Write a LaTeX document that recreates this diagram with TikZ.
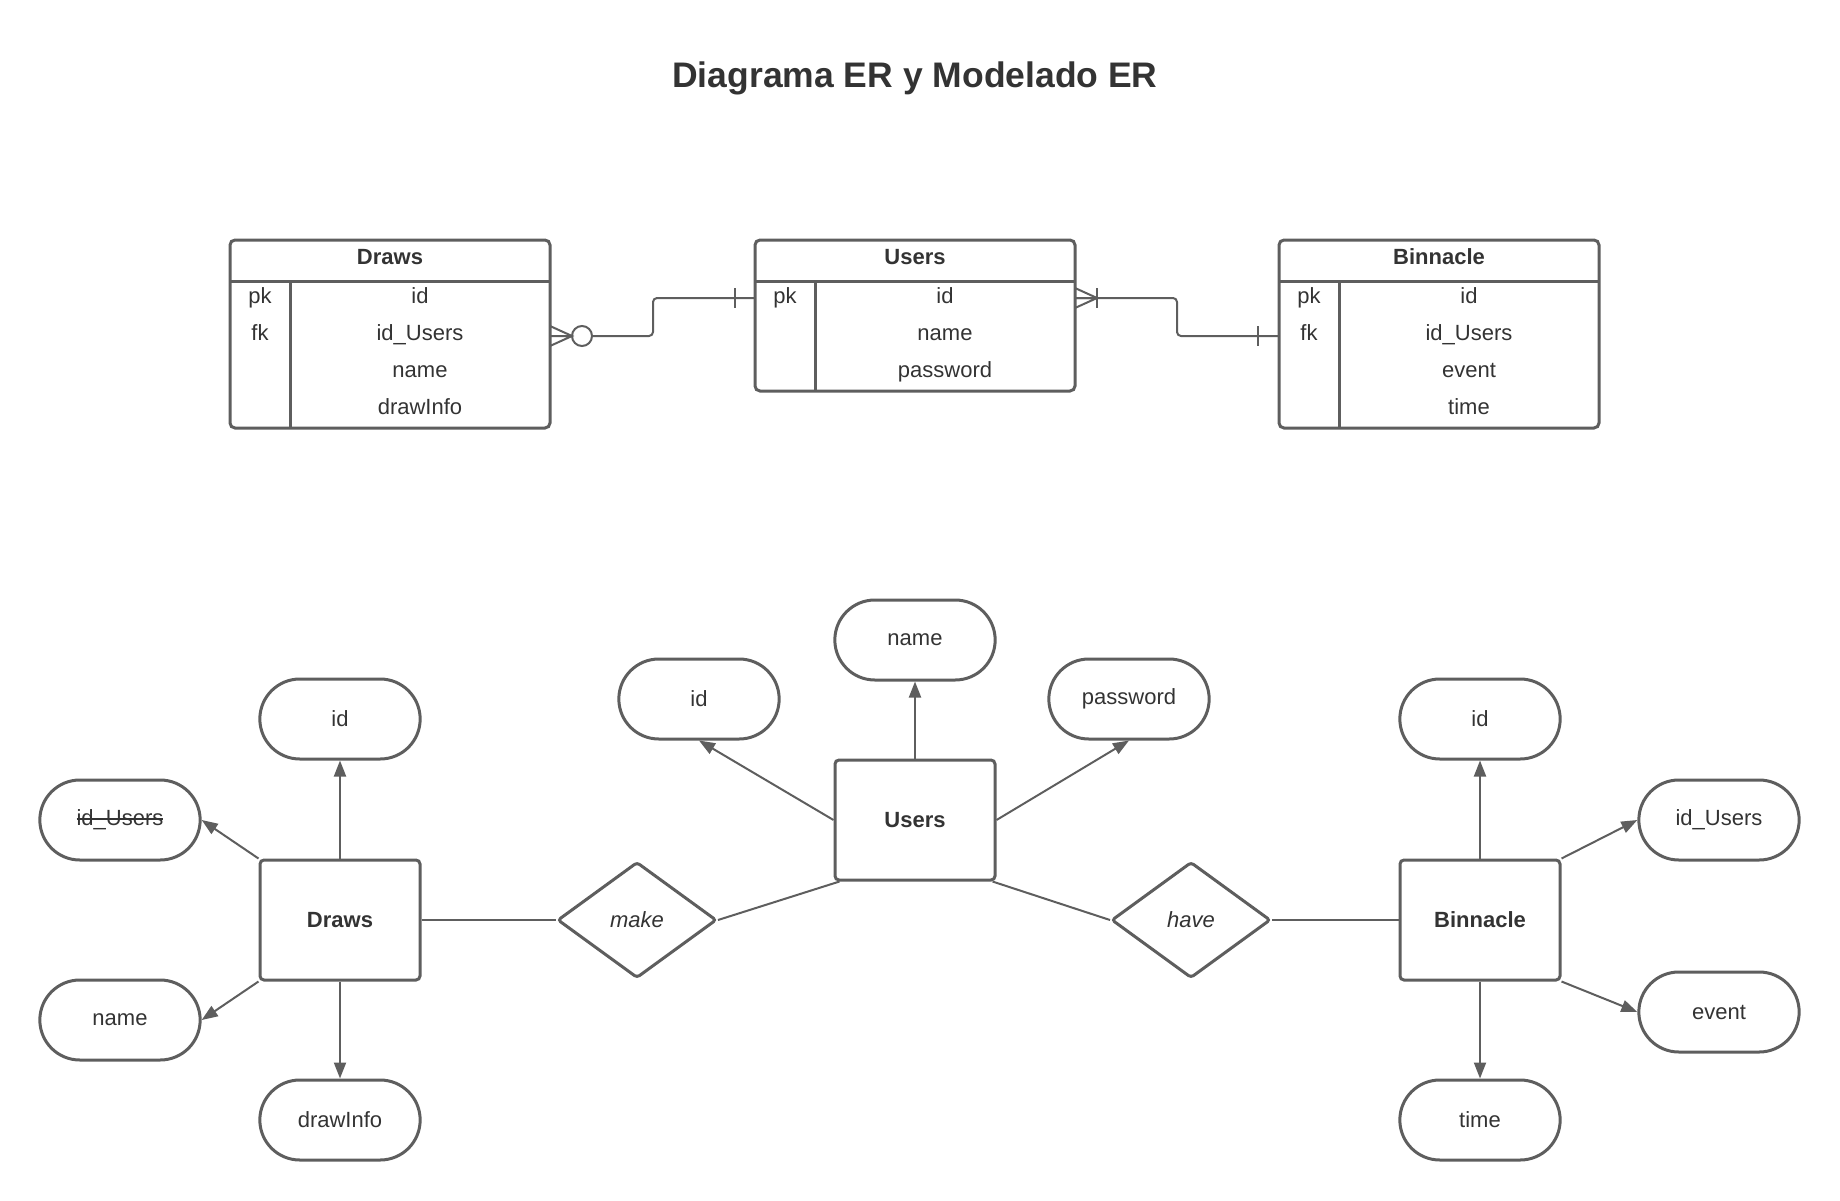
\documentclass[tikz,border=0pt]{standalone}
\usepackage{fontspec}
\setmainfont{Liberation Sans}
\usetikzlibrary{arrows.meta}
\usetikzlibrary{positioning}
\usetikzlibrary{shapes, shapes.geometric}

\definecolor{linegray}{HTML}{5E5E5E}
\definecolor{textgray}{HTML}{333333}

\newcommand\crossout[1]{\setbox0=\hbox{#1}\rlap{\copy0}\rule[0.28em]{\wd0}{1.5pt}}

\tikzset{
    txt/.style={font=\fontsize{22}{26}\selectfont, text=textgray},
    tablebox/.style={draw=linegray, line width=3pt, rounded corners=5pt, minimum width=320pt, outer sep=0pt},
    tableline/.style={draw=linegray, line width=3pt},
    field/.style={txt, inner sep=0pt, text height=16pt, text depth=4pt},
    entity/.style={txt, draw=linegray, line width=3pt, rounded corners=4pt, minimum width=160pt, minimum height=120pt, font=\fontsize{22}{26}\selectfont\bfseries},
    attr/.style={txt, draw=linegray, line width=3pt, rounded rectangle, minimum width=167pt, minimum height=80pt},
    relation/.style={txt, draw=linegray, line width=3pt, diamond, rounded corners=3pt, inner sep=0pt, minimum width=159pt, minimum height=116pt, font=\fontsize{22}{26}\selectfont\itshape},
    link/.style={draw=linegray, line width=2pt},
    attrlink/.style={link, -{Triangle[length=16pt, width=12pt]}},
}

\begin{document}
\begin{tikzpicture}[x=1pt, y=-1pt]
    \useasboundingbox (0,0) rectangle (1840,1200);

    \node[txt, font=\fontsize{35.5}{40}\selectfont\bfseries] (title) at (915,78) {Diagrama ER y Modelado ER};

    % Tables
    \node[tablebox, minimum height=188pt] (tdraws) at (390,334) {};
    \node[tablebox, minimum height=151pt] (tusers) at (915,315.5) {};
    \node[tablebox, minimum height=188pt] (tbin) at (1439,334) {};
    \foreach \t in {tdraws, tusers, tbin} {
        \draw[tableline] ([yshift=-41pt]\t.north west) -- ([yshift=-41pt]\t.north east);
        \draw[tableline] ([xshift=60pt, yshift=-41pt]\t.north west) -- ([xshift=60pt]\t.south west);
    }

    \node[field, font=\fontsize{22}{26}\selectfont\bfseries] (tdraws-h) at (390,258) {Draws};
    \node[field, font=\fontsize{22}{26}\selectfont\bfseries] (tusers-h) at (915,258) {Users};
    \node[field, font=\fontsize{22}{26}\selectfont\bfseries] (tbin-h) at (1439,258) {Binnacle};

    \foreach \k/\v [count=\i] in {pk/id, fk/id\_Users, /name, /drawInfo} {
        \node[field] (tdraws-k\i) at (260,{260+37*\i}) {\k};
        \node[field] (tdraws-v\i) at (420,{260+37*\i}) {\v};
    }
    \foreach \k/\v [count=\i] in {pk/id, /name, /password} {
        \node[field] (tusers-k\i) at (785,{260+37*\i}) {\k};
        \node[field] (tusers-v\i) at (945,{260+37*\i}) {\v};
    }
    \foreach \k/\v [count=\i] in {pk/id, fk/id\_Users, /event, /time} {
        \node[field] (tbin-k\i) at (1309,{260+37*\i}) {\k};
        \node[field] (tbin-v\i) at (1469,{260+37*\i}) {\v};
    }

    % Draws -- Users
    \coordinate (dfk) at ([yshift=-2pt]tdraws.east |- tdraws-v2);
    \coordinate (upk) at ([yshift=-1pt]tusers.west |- tusers-v1);
    \draw[link] (dfk) -- ++(22,0) (dfk) ++(0,-10) -- ++(22,10) -- ++(-22,10);
    \node[draw=linegray, line width=2pt, circle, minimum size=20pt, inner sep=0pt] (zero) at ([xshift=32pt]dfk) {};
    \draw[link, rounded corners=4pt] (zero.east) -- ++(60,0) |- (upk);
    \draw[link] ([xshift=-20pt]upk) ++(0,-10) -- ++(0,20);

    % Users -- Binnacle
    \coordinate (upk2) at ([yshift=-1pt]tusers.east |- tusers-v1);
    \coordinate (bfk) at ([yshift=-2pt]tbin.west |- tbin-v2);
    \draw[link] (upk2) -- ++(22,0) (upk2) ++(0,-10) -- ++(22,10) -- ++(-22,10);
    \draw[link] ([xshift=22pt]upk2) ++(0,-10) -- ++(0,20);
    \draw[link, rounded corners=4pt] (upk2) -- ++(102,0) |- (bfk);
    \draw[link] ([xshift=-21pt]bfk) ++(0,-10) -- ++(0,20);

    % ER model
    \node[entity] (edraws) at (340,920) {Draws};
    \node[entity] (eusers) at (915,820) {Users};
    \node[entity] (ebin) at (1480,920) {Binnacle};
    \node[relation] (make) at (637,920) {make};
    \node[relation] (have) at (1191,920) {have};

    \node[attr] (adraws-id) at (340,719) {id};
    \node[attr] (adraws-idu) at (120,820) {\crossout{id\_Users}};
    \node[attr] (adraws-name) at (120,1020) {name};
    \node[attr] (adraws-info) at (340,1120) {drawInfo};
    \node[attr] (ausers-id) at (699,699) {id};
    \node[attr] (ausers-name) at (915,640) {name};
    \node[attr] (ausers-pw) at (1129,699) {password};
    \node[attr] (abin-id) at (1480,719) {id};
    \node[attr] (abin-idu) at (1719,820) {id\_Users};
    \node[attr] (abin-ev) at (1719,1012) {event};
    \node[attr] (abin-time) at (1480,1120) {time};

    \draw[link] (edraws) -- (make);
    \draw[link] (make.east) -- ([xshift=6pt]eusers.south west);
    \draw[link] ([xshift=-4pt]eusers.south east) -- (have.west);
    \draw[link] (have) -- (ebin);

    \draw[attrlink] (edraws.north) -- (adraws-id.south);
    \draw[attrlink] (edraws.north west) -- (adraws-idu.east);
    \draw[attrlink] (edraws.south west) -- (adraws-name.east);
    \draw[attrlink] (edraws.south) -- (adraws-info.north);
    \draw[attrlink] (eusers.west) -- (ausers-id.south);
    \draw[attrlink] (eusers.north) -- (ausers-name.south);
    \draw[attrlink] (eusers.east) -- (ausers-pw.south);
    \draw[attrlink] (ebin.north) -- (abin-id.south);
    \draw[attrlink] (ebin.north east) -- (abin-idu.west);
    \draw[attrlink] (ebin.south east) -- (abin-ev.west);
    \draw[attrlink] (ebin.south) -- (abin-time.north);
\end{tikzpicture}
\end{document}
